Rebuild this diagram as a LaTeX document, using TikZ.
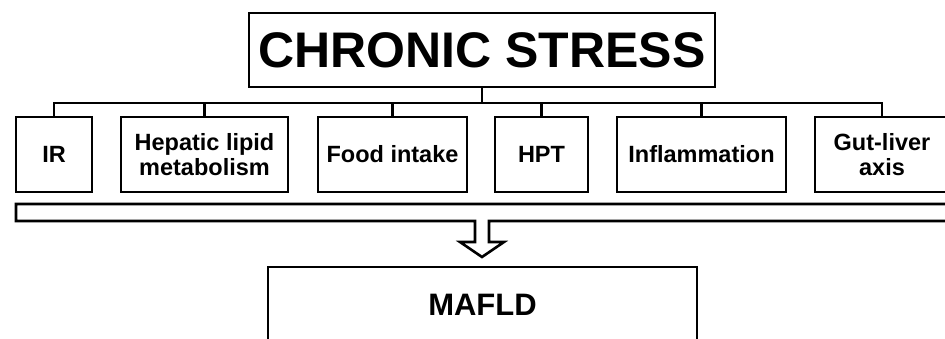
\documentclass[tikz,border=0pt]{standalone}
\usepackage{fontspec}
\setmainfont{Liberation Sans}
\begin{document}
\begin{tikzpicture}[x=1pt,y=-1pt,
  line width=2.6pt,
  boxstyle/.style={draw, line width=2.6pt, inner sep=0pt, align=center,
    font=\fontsize{23.5}{25}\selectfont\bfseries, minimum height=75pt},
  topbox/.style={draw, line width=2.6pt, inner sep=0pt,
    font=\fontsize{50}{60}\selectfont\bfseries, minimum width=466pt, minimum height=74pt},
  endbox/.style={draw, line width=2.6pt, inner sep=0pt,
    font=\fontsize{31}{36}\selectfont\bfseries, minimum width=429pt, minimum height=76pt}]
\useasboundingbox (0,0) rectangle (945,339);
\clip (0,0) rectangle (945,339);
\node[topbox] (top) at (482,50) {CHRONIC STRESS};
\coordinate (bus) at (482,103);
\node[boxstyle, minimum width=76pt]  (ir)   at (54,154.5)    {IR};
\node[boxstyle, minimum width=167pt] (hep)  at (204.5,154.5) {Hepatic lipid\\metabolism};
\node[boxstyle, minimum width=149pt] (food) at (392.5,154.5) {Food intake};
\node[boxstyle, minimum width=93pt]  (hpt)  at (541.5,154.5) {HPT};
\node[boxstyle, minimum width=169pt] (infl) at (701.5,154.5) {Inflammation};
\node[boxstyle, minimum width=134pt] (gut)  at (882,154.5)   {Gut-liver\\axis};
\draw (top.south) -- (bus);
\draw (ir.north) |- (bus) -| (gut.north);
\foreach \n in {hep,food,hpt,infl} \draw (\n.north) -- (\n.north |- bus);
\node[endbox] (mafld) at (482.5,305) {MAFLD};
\coordinate (tip) at (482,257);
\draw[line join=miter] (16,204) -- (960,204) -- (960,221) -- (489,221) -- (489,242) -- (504,242)
  -- (tip) -- (460,242) -- (475,242) -- (475,221) -- (16,221) -- cycle;
\end{tikzpicture}
\end{document}
